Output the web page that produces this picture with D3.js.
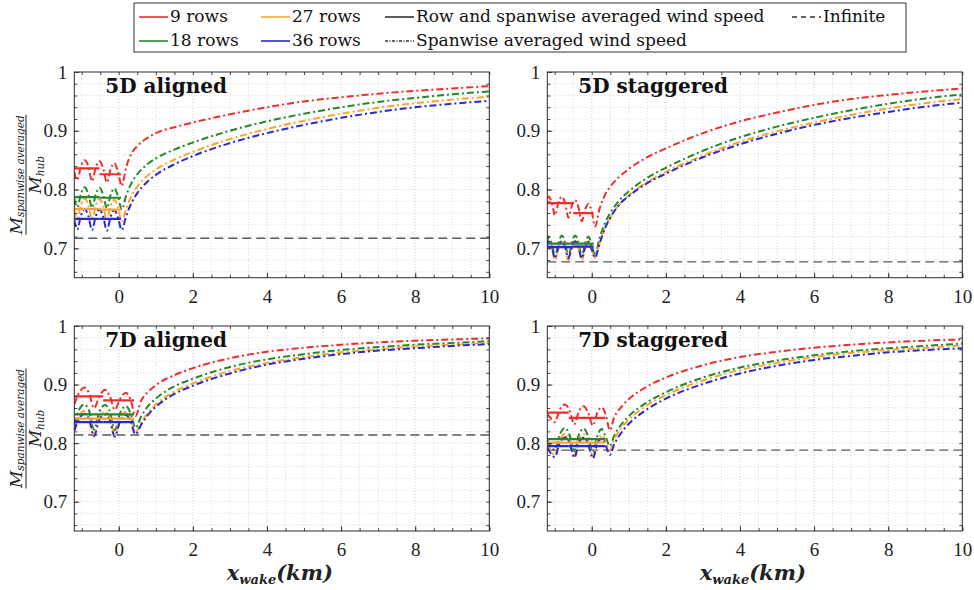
<!DOCTYPE html>
<html>
<head>
<meta charset="utf-8">
<script src="https://cdn.jsdelivr.net/npm/d3@7"></script>
<style>
  body { margin: 0; background: #fff; }
</style>
</head>
<body>
<div id="container"></div>
<script>
// ---- data ----
const seriesNames = ['9 rows', '18 rows', '27 rows', '36 rows'];
const panelTitles = ['5D aligned', '5D staggered', '7D aligned', '7D staggered'];
const xTicks = [0, 2, 4, 6, 8, 10];
const yTicks = [0.7, 0.8, 0.9, 1];
const infiniteLevels = [0.717, 0.677, 0.814, 0.788];

// 5D aligned
const a5_x = [-1.2, -1.12, -1.02, -0.92, -0.82, -0.72, -0.62, -0.52, -0.42, -0.32, -0.22, -0.12, -0.02, 0.08, 0.2, 0.35, 0.5, 0.75, 1, 1.5, 2, 3, 4, 5, 6, 7, 8, 9, 10];
const a5_9 = [0.830, 0.816, 0.840, 0.850, 0.840, 0.814, 0.838, 0.848, 0.836, 0.812, 0.835, 0.845, 0.830, 0.806, 0.838, 0.862, 0.874, 0.887, 0.896, 0.906, 0.914, 0.928, 0.940, 0.950, 0.957, 0.963, 0.968, 0.972, 0.976];
const a5_18 = [0.785, 0.770, 0.793, 0.804, 0.792, 0.769, 0.792, 0.803, 0.791, 0.768, 0.791, 0.802, 0.788, 0.766, 0.790, 0.812, 0.826, 0.842, 0.853, 0.868, 0.880, 0.900, 0.916, 0.929, 0.940, 0.949, 0.956, 0.962, 0.967];
const a5_27 = [0.765, 0.750, 0.774, 0.785, 0.773, 0.749, 0.773, 0.784, 0.772, 0.748, 0.772, 0.783, 0.769, 0.746, 0.768, 0.790, 0.805, 0.822, 0.834, 0.851, 0.864, 0.886, 0.903, 0.917, 0.929, 0.939, 0.947, 0.953, 0.958];
const a5_36 = [0.748, 0.732, 0.756, 0.767, 0.755, 0.731, 0.755, 0.766, 0.754, 0.730, 0.754, 0.765, 0.752, 0.731, 0.755, 0.778, 0.794, 0.812, 0.825, 0.843, 0.857, 0.879, 0.896, 0.910, 0.922, 0.932, 0.940, 0.946, 0.951];
const a5_stepX = [-1.2, -0.52, 0.06];
const a5_rowAvg = [[0.836, 0.826], [0.787, 0.786], [0.767, 0.766], [0.750, 0.750]];

// 5D staggered
const s5_x = [-1.2, -1.17, -1.08, -0.99, -0.90, -0.81, -0.72, -0.63, -0.54, -0.45, -0.36, -0.27, -0.18, -0.09, 0.0, 0.09, 0.2, 0.35, 0.5, 0.75, 1, 1.5, 2, 3, 4, 5, 6, 7, 8, 9, 10];
const s5_9 = [0.785, 0.788, 0.778, 0.756, 0.778, 0.788, 0.777, 0.752, 0.772, 0.782, 0.770, 0.746, 0.766, 0.776, 0.762, 0.737, 0.765, 0.790, 0.805, 0.822, 0.835, 0.855, 0.870, 0.896, 0.916, 0.931, 0.944, 0.954, 0.961, 0.967, 0.972];
const s5_18 = [0.712, 0.720, 0.708, 0.686, 0.708, 0.722, 0.710, 0.686, 0.709, 0.722, 0.710, 0.686, 0.708, 0.720, 0.705, 0.688, 0.715, 0.742, 0.760, 0.782, 0.797, 0.820, 0.837, 0.866, 0.889, 0.907, 0.922, 0.935, 0.946, 0.955, 0.962];
const s5_27 = [0.702, 0.710, 0.700, 0.680, 0.700, 0.712, 0.701, 0.680, 0.700, 0.712, 0.701, 0.680, 0.699, 0.710, 0.697, 0.684, 0.705, 0.733, 0.752, 0.775, 0.790, 0.813, 0.830, 0.858, 0.881, 0.899, 0.914, 0.927, 0.938, 0.947, 0.954];
const s5_36 = [0.704, 0.712, 0.702, 0.683, 0.702, 0.712, 0.702, 0.683, 0.702, 0.712, 0.702, 0.683, 0.701, 0.711, 0.698, 0.684, 0.706, 0.733, 0.752, 0.775, 0.789, 0.811, 0.827, 0.855, 0.877, 0.895, 0.910, 0.922, 0.932, 0.941, 0.948];
const s5_stepX = [-1.2, -0.5, 0.05];
const s5_rowAvg = [[0.777, 0.760], [0.708, 0.708], [0.703, 0.703], [0.702, 0.703]];

// 7D aligned
const a7_x = [-1.2, -1.07, -0.93, -0.80, -0.67, -0.52, -0.37, -0.24, -0.11, 0.04, 0.19, 0.32, 0.45, 0.6, 0.8, 1, 1.5, 2, 3, 4, 5, 6, 7, 8, 9, 10];
const a7_9 = [0.866, 0.886, 0.895, 0.885, 0.860, 0.880, 0.891, 0.880, 0.857, 0.876, 0.886, 0.874, 0.846, 0.872, 0.888, 0.899, 0.916, 0.928, 0.945, 0.956, 0.963, 0.968, 0.972, 0.975, 0.977, 0.979];
const a7_18 = [0.832, 0.857, 0.866, 0.855, 0.823, 0.854, 0.865, 0.854, 0.822, 0.852, 0.863, 0.851, 0.826, 0.845, 0.864, 0.876, 0.897, 0.910, 0.930, 0.943, 0.952, 0.959, 0.964, 0.968, 0.971, 0.974];
const a7_27 = [0.825, 0.847, 0.855, 0.845, 0.815, 0.844, 0.854, 0.844, 0.814, 0.843, 0.853, 0.842, 0.818, 0.835, 0.853, 0.866, 0.888, 0.902, 0.923, 0.937, 0.947, 0.955, 0.960, 0.965, 0.968, 0.971];
const a7_36 = [0.821, 0.842, 0.850, 0.840, 0.812, 0.840, 0.849, 0.839, 0.811, 0.838, 0.848, 0.837, 0.815, 0.831, 0.849, 0.862, 0.884, 0.898, 0.919, 0.934, 0.944, 0.952, 0.958, 0.962, 0.966, 0.969];
const a7_stepX = [-1.2, -0.42, 0.41];
const a7_rowAvg = [[0.880, 0.873], [0.849, 0.849], [0.842, 0.842], [0.836, 0.836]];

// 7D staggered
const s7_x = [-1.2, -1.1, -1.0, -0.86, -0.72, -0.6, -0.47, -0.35, -0.22, -0.1, 0.03, 0.15, 0.27, 0.38, 0.49, 0.6, 0.8, 1, 1.5, 2, 3, 4, 5, 6, 7, 8, 9, 10];
const s7_9 = [0.850, 0.842, 0.836, 0.858, 0.866, 0.856, 0.832, 0.854, 0.863, 0.852, 0.830, 0.852, 0.861, 0.848, 0.822, 0.843, 0.862, 0.875, 0.897, 0.912, 0.933, 0.947, 0.956, 0.963, 0.968, 0.972, 0.975, 0.977];
const s7_18 = [0.805, 0.795, 0.788, 0.815, 0.826, 0.814, 0.786, 0.814, 0.825, 0.812, 0.785, 0.813, 0.824, 0.810, 0.795, 0.812, 0.832, 0.846, 0.870, 0.887, 0.912, 0.929, 0.941, 0.950, 0.957, 0.962, 0.966, 0.970];
const s7_27 = [0.798, 0.787, 0.780, 0.806, 0.816, 0.805, 0.779, 0.805, 0.815, 0.803, 0.778, 0.804, 0.814, 0.801, 0.787, 0.805, 0.826, 0.840, 0.865, 0.882, 0.907, 0.925, 0.937, 0.947, 0.954, 0.959, 0.963, 0.967];
const s7_36 = [0.792, 0.782, 0.776, 0.801, 0.810, 0.800, 0.775, 0.800, 0.809, 0.798, 0.774, 0.799, 0.808, 0.795, 0.780, 0.797, 0.818, 0.833, 0.858, 0.876, 0.901, 0.919, 0.932, 0.942, 0.949, 0.955, 0.959, 0.962];
const s7_stepX = [-1.2, -0.62, 0.36];
const s7_rowAvg = [[0.852, 0.843], [0.807, 0.807], [0.801, 0.801], [0.795, 0.795]];

// ---- layout / styles ----
const colors = ['#f22b2b', '#24882a', '#ffa22c', '#2828d4'];
const panels = [
    { x: a5_x, ys: [a5_9, a5_18, a5_27, a5_36], stepX: a5_stepX, rowAvg: a5_rowAvg, left: 74.3, top: 72, h: 205.7 },
    { x: s5_x, ys: [s5_9, s5_18, s5_27, s5_36], stepX: s5_stepX, rowAvg: s5_rowAvg, left: 547.3, top: 72, h: 205.7 },
    { x: a7_x, ys: [a7_9, a7_18, a7_27, a7_36], stepX: a7_stepX, rowAvg: a7_rowAvg, left: 74.3, top: 326, h: 205 },
    { x: s7_x, ys: [s7_9, s7_18, s7_27, s7_36], stepX: s7_stepX, rowAvg: s7_rowAvg, left: 547.3, top: 326, h: 205 },
];
const panelW = 415;
const serif = '"Liberation Serif", "Times New Roman", serif';
const cmLike = '"DejaVu Serif", serif';

const svg = d3.select('#container')
    .append('svg')
    .attr('width', 974)
    .attr('height', 590)
    .style('background-color', '#ffffff');

const defs = svg.append('defs');

panels.forEach((p, i) => {
    const x = d3.scaleLinear().domain([-1.2, 10]).range([0, panelW]);
    const y = d3.scaleLinear().domain([0.65, 1]).range([p.h, 0]);
    const g = svg.append('g').attr('transform', `translate(${p.left},${p.top})`);

    const clipId = `clip-${i}`;
    defs.append('clipPath').attr('id', clipId)
        .append('rect').attr('width', panelW).attr('height', p.h);

    // grid (major + minor, all dotted)
    const gx = d3.range(-1, 10.001, 0.5);
    const gy = d3.range(0.66, 0.9999, 0.02);
    g.append('g').selectAll('line').data(gx).join('line')
        .attr('x1', d => x(d)).attr('x2', d => x(d))
        .attr('y1', 0).attr('y2', p.h)
        .attr('stroke', d => (Math.abs(d % 2) < 1e-6 ? '#c4c4c4' : '#d6d6d6'))
        .attr('stroke-width', 0.8)
        .attr('stroke-dasharray', '1,2');
    g.append('g').selectAll('line').data(gy).join('line')
        .attr('x1', 0).attr('x2', panelW)
        .attr('y1', d => y(d)).attr('y2', d => y(d))
        .attr('stroke', '#d0d0d0')
        .attr('stroke-width', 0.8)
        .attr('stroke-dasharray', '1,2');

    const plot = g.append('g').attr('clip-path', `url(#${clipId})`);

    // infinite farm level
    plot.append('line')
        .attr('x1', 0).attr('x2', panelW)
        .attr('y1', y(infiniteLevels[i])).attr('y2', y(infiniteLevels[i]))
        .attr('stroke', '#5a5a5a')
        .attr('stroke-width', 1.4)
        .attr('stroke-dasharray', '9,5');

    const line = d3.line()
        .x(d => x(d[0]))
        .y(d => y(d[1]))
        .curve(d3.curveMonotoneX);

    p.ys.forEach((vals, s) => {
        // spanwise averaged (dash-dot)
        plot.append('path')
            .datum(p.x.map((xv, k) => [xv, vals[k]]))
            .attr('d', line)
            .attr('fill', 'none')
            .attr('stroke', colors[s])
            .attr('stroke-width', 2)
            .attr('stroke-dasharray', '7,3,2,3');
    });
    p.rowAvg.forEach((vals, s) => {
        // row + spanwise averaged (solid steps)
        vals.forEach((v, k) => {
            plot.append('line')
                .attr('x1', x(p.stepX[k])).attr('x2', x(p.stepX[k + 1]))
                .attr('y1', y(v)).attr('y2', y(v))
                .attr('stroke', colors[s])
                .attr('stroke-width', 2.2);
        });
    });

    // axes with inward ticks
    const tickFmtY = d => (d === 1 ? '1' : d3.format('.1f')(d));
    const axB = g.append('g').attr('transform', `translate(0,${p.h})`)
        .call(d3.axisBottom(x).tickValues(xTicks).tickSize(-5).tickPadding(12).tickFormat(d3.format('d')));
    const axL = g.append('g')
        .call(d3.axisLeft(y).tickValues(yTicks).tickSize(-5).tickPadding(7).tickFormat(tickFmtY));
    g.append('g').attr('transform', `translate(0,${p.h})`)
        .call(d3.axisBottom(x).tickValues(gx).tickSize(-3).tickFormat(''));
    g.append('g')
        .call(d3.axisLeft(y).tickValues(gy).tickSize(-3).tickFormat(''));
    g.append('g')
        .call(d3.axisTop(x).tickValues(gx).tickSize(-3).tickFormat(''));
    g.append('g').attr('transform', `translate(${panelW},0)`)
        .call(d3.axisRight(y).tickValues(gy).tickSize(-3).tickFormat(''));
    g.selectAll('.domain').remove();
    g.selectAll('.tick line').attr('stroke', '#333').attr('stroke-width', 0.9);
    [axB, axL].forEach(a => a.selectAll('text')
        .attr('font-family', null)
        .style('font-family', serif)
        .style('font-size', '19px')
        .style('fill', '#222'));

    g.append('rect')
        .attr('width', panelW).attr('height', p.h)
        .attr('fill', 'none')
        .attr('stroke', '#2a2a2a')
        .attr('stroke-width', 1);

    // panel title
    g.append('text')
        .text(panelTitles[i])
        .attr('x', 31).attr('y', 21)
        .style('font-family', cmLike)
        .style('font-weight', 700)
        .style('font-size', '20px')
        .style('fill', '#111');

    // y label (fraction), left column only
    if (p.left < 200) {
        const lab = svg.append('g')
            .attr('transform', `translate(26,${p.top + p.h / 2}) rotate(-90)`)
            .style('font-family', cmLike)
            .style('font-style', 'italic')
            .style('fill', '#222');
        const num = lab.append('text').attr('text-anchor', 'middle').attr('y', -4);
        num.append('tspan').style('font-size', '17px').text('M');
        num.append('tspan').style('font-size', '10.5px').attr('dy', 2).text('spanwise averaged');
        lab.append('line').attr('x1', -60).attr('x2', 60).attr('y1', 0).attr('y2', 0)
            .attr('stroke', '#222').attr('stroke-width', 1);
        const den = lab.append('text').attr('text-anchor', 'middle').attr('y', 15);
        den.append('tspan').style('font-size', '17px').text('M');
        den.append('tspan').style('font-size', '10.5px').attr('dy', 3).text('hub');
    }

    // x label, bottom row only
    if (p.top > 200) {
        const xl = svg.append('text')
            .attr('x', p.left + panelW / 2 - 2)
            .attr('y', 580)
            .attr('text-anchor', 'middle')
            .style('font-family', cmLike)
            .style('font-style', 'italic')
            .style('font-weight', 700)
            .style('fill', '#222');
        xl.append('tspan').style('font-size', '21px').text('x');
        xl.append('tspan').style('font-size', '13px').attr('dy', 4).text('wake');
        xl.append('tspan').style('font-size', '21px').attr('dy', -4).text('(km)');
    }
});

// ---- legend ----
const lg = svg.append('g');
lg.append('rect')
    .attr('x', 134).attr('y', 3)
    .attr('width', 772).attr('height', 49)
    .attr('fill', '#fff')
    .attr('stroke', '#333')
    .attr('stroke-width', 1);

const legendItems = [
    { label: seriesNames[0], color: colors[0], dash: null, x: 139, y: 17 },
    { label: seriesNames[2], color: colors[2], dash: null, x: 261, y: 17 },
    { label: 'Row and spanwise averaged wind speed', color: '#333', dash: null, x: 385, y: 17 },
    { label: 'Infinite', color: '#333', dash: '5,4', x: 792, y: 17 },
    { label: seriesNames[1], color: colors[1], dash: null, x: 139, y: 41 },
    { label: seriesNames[3], color: colors[3], dash: null, x: 261, y: 41 },
    { label: 'Spanwise averaged wind speed', color: '#333', dash: '3,1.5,1,1.5', x: 385, y: 41 },
];
legendItems.forEach(it => {
    lg.append('line')
        .attr('x1', it.x).attr('x2', it.x + 29)
        .attr('y1', it.y).attr('y2', it.y)
        .attr('stroke', it.color)
        .attr('stroke-width', 1.6)
        .attr('stroke-dasharray', it.dash);
    lg.append('text')
        .text(it.label)
        .attr('x', it.x + 31).attr('y', it.y + 5)
        .style('font-family', cmLike)
        .style('font-size', '17px')
        .style('fill', '#111');
});
</script>
</body>
</html>
